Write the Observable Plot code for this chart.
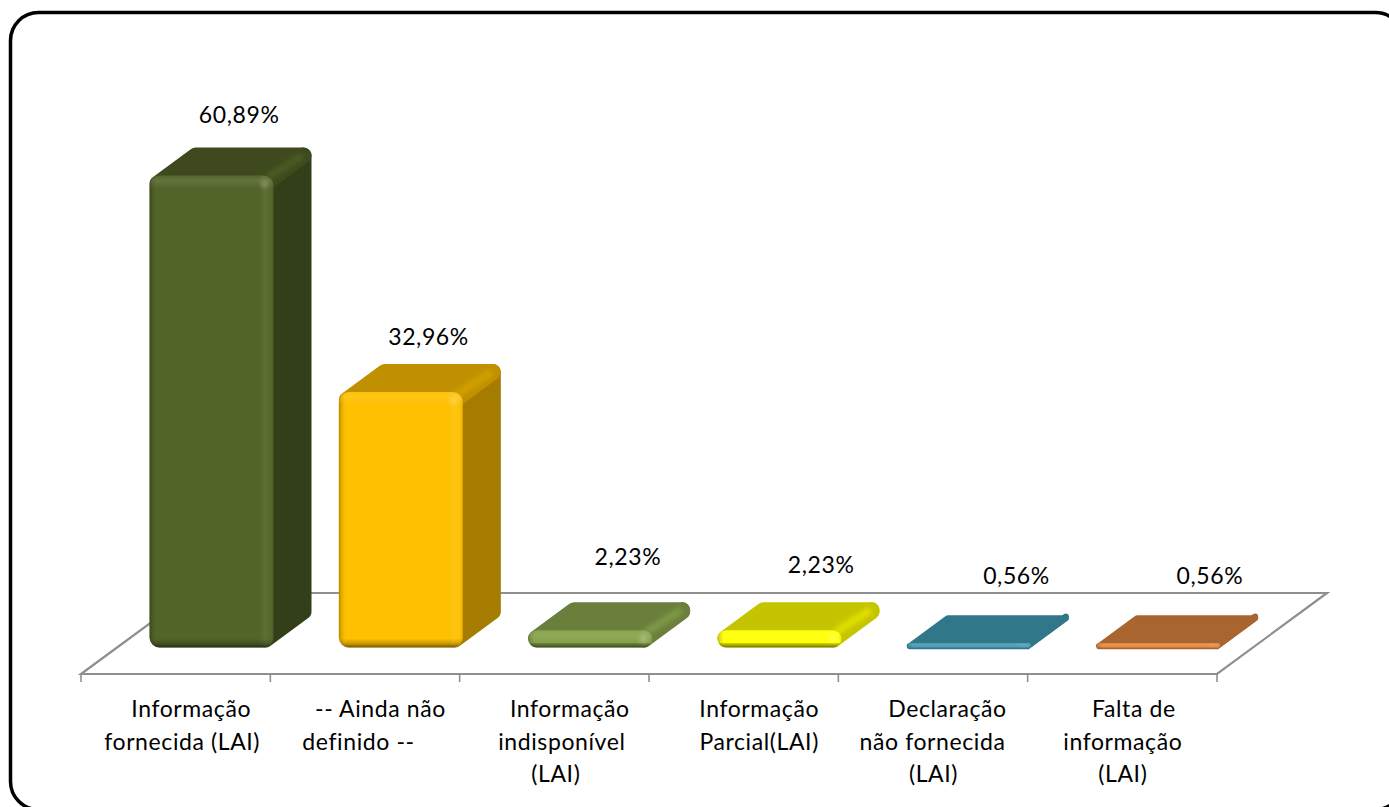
<!DOCTYPE html>
<html lang="pt">
<head>
<meta charset="utf-8">
<title>Informação</title>
<style>html,body{margin:0;padding:0;background:#fff;overflow:hidden}svg{display:block}</style>
<script src="https://cdn.jsdelivr.net/npm/d3@7"></script>
<script src="https://cdn.jsdelivr.net/npm/@observablehq/plot@0.6"></script>
</head>
<body>
<div id="chart"></div>
<script>
// ---- data ----
const categories = ["Informação fornecida (LAI)", "-- Ainda não definido --", "Informação indisponível (LAI)", "Informação Parcial(LAI)", "Declaração não fornecida (LAI)", "Falta de informação (LAI)"];
const values = [60.89, 32.96, 2.23, 2.23, 0.56, 0.56];
const tickLines = [
  ["Informação", "fornecida (LAI)"],
  ["-- Ainda não", "definido --"],
  ["Informação", "indisponível", "(LAI)"],
  ["Informação", "Parcial(LAI)"],
  ["Declaração", "não fornecida", "(LAI)"],
  ["Falta de", "informação", "(LAI)"]
];
// ---- styles ----
const frontColors = ["#526427", "#ffc000", "#84a047", "#ffff00", "#4a9db5", "#e58a42"];
const topColors = ["#3e4a1e", "#c09000", "#6a7f3c", "#c4c400", "#31778a", "#a9652f"];
const sideColors = ["#333f19", "#a67c00", "#6a7f3c", "#c8c800", "#31778a", "#a9652f"];
const edgeColors = ["#4a5a22", "#d19e00", "#7c9745", "#dede00", "#31778a", "#a9652f"];
// ---- layout ----
const font = "Lato, 'Open Sans', sans-serif";
const fontSize = 23;
const depthX = 38, depthY = 28;
const floorDepthX = 110, floorDepthY = 81, floorDrop = 26.5, tickLen = 8;
const barInsetLeft = 68.5, barWidth = 124;
const valueDx = [63, 63, 73, 77, 83, 87];
const valueDy = [-53.6, -48, -66, -58, -60, -60];
const tickDx = [[15, 6], [15, -7], [15, 7, 1], [15, 15], [14, -1, 0], [11, 0, 0]];
const tickDy = [68.5, 101.5, 134];
const fmt = (v) => v.toFixed(2).replace(".", ",") + "%";

const rows = categories.map((category, i) => ({category, value: values[i], i}));

function svgEl(name, attrs, parent) {
  const e = document.createElementNS("http://www.w3.org/2000/svg", name);
  for (const k in attrs) e.setAttribute(k, attrs[k]);
  if (parent) parent.appendChild(e);
  return e;
}

// grey floor with its tick marks, placed from the scales
const floorMark = (index, {x, y}) => {
  const g = svgEl("g", {});
  const step = x.bandwidth();
  const x0 = x(categories[0]);
  const x1 = x0 + step * categories.length;
  const fy = y(0) + floorDrop;
  const st = {fill: "none", stroke: "#8f8f8f", "stroke-width": 2.2, "stroke-linejoin": "miter"};
  svgEl("path", {...st, d: `M${x0},${fy}L${x1},${fy}L${x1 + floorDepthX},${fy - floorDepthY}L${x0 + floorDepthX},${fy - floorDepthY}Z`}, g);
  for (let i = 0; i <= categories.length; ++i) {
    const tx = x0 + i * step;
    svgEl("line", {x1: tx, x2: tx, y1: fy, y2: fy + tickLen, stroke: "#8f8f8f", "stroke-width": 1.6}, g);
  }
  return g;
};

// gradients and the depth faces (top, side) of each bar, placed from the scales
const depthMark = (index, {x, y}) => {
  const g = svgEl("g", {});
  const defs = svgEl("defs", {}, g);
  const blur = svgEl("filter", {id: "soft", x: "-30%", y: "-30%", width: "160%", height: "160%"}, defs);
  svgEl("feGaussianBlur", {stdDeviation: 2.2}, blur);
  for (const {category, value, i} of rows) {
    const l = x(category) + barInsetLeft, r = l + barWidth;
    const t = y(value), b = y(0);
    const h = b - t;
    // front: horizontal and vertical shading
    const gh = svgEl("linearGradient", {id: `fh${i}`, x1: 0, x2: 1, y1: 0, y2: 0}, defs);
    [[0, "#000", .3], [.02, "#000", .12], [.05, "#000", 0], [.88, "#fff", 0], [.93, "#fff", .07], [.97, "#fff", .03], [1, "#000", .1]]
      .forEach(([o, c, a]) => svgEl("stop", {offset: o, "stop-color": c, "stop-opacity": a}, gh));
    const gv = svgEl("linearGradient", {id: `fv${i}`, x1: 0, x2: 0, y1: 0, y2: 1}, defs);
    const f = (px) => Math.min(1, px / h);
    const stops = h > 10
      ? [[0, "#fff", .02], [f(5), "#fff", .1], [f(13), "#fff", 0], [1 - f(9), "#000", 0], [1 - f(4), "#000", .2], [1, "#000", .55]]
      : [[0, "#fff", .1], [1, "#fff", 0]];
    stops.forEach(([o, c, a]) => svgEl("stop", {offset: o, "stop-color": c, "stop-opacity": a}, gv));
    // side and top faces, with corners rounded by their own stroke
    const rnd = h > 10 ? 8 : 3;
    const poly = (pts, fill) => svgEl("path", {
      d: "M" + pts.map((p) => p.join(",")).join("L") + "Z",
      fill, stroke: fill, "stroke-width": rnd * 2, "stroke-linejoin": "round"
    }, g);
    poly([[r - rnd, t + rnd], [r + depthX - rnd, t - depthY + rnd], [r + depthX - rnd, b - depthY - rnd], [r - rnd, b - rnd]], sideColors[i]);
    poly([[l + rnd, t + rnd], [l + depthX + rnd, t - depthY + rnd], [r + depthX - rnd, t - depthY + rnd], [r - rnd, t + rnd]], topColors[i]);
    // soft light edge between top and side
    if (h > 10) {
      svgEl("line", {x1: r - 6, y1: t + 2, x2: r + depthX - 9, y2: t - depthY + 8,
        stroke: edgeColors[i], "stroke-width": 8, filter: "url(#soft)"}, g);
    }
  }
  return g;
};

// small highlight on the front's top-right corner
const shineMark = (index, {x, y}) => {
  const g = svgEl("g", {});
  for (const {category, value} of rows) {
    if (value < 1) continue;
    const cx = x(category) + barInsetLeft + barWidth - 9;
    svgEl("circle", {cx, cy: y(value) + 9, r: 3.5, fill: "#fff", "fill-opacity": .2, filter: "url(#soft)"}, g);
  }
  return g;
};

const frontMarks = rows.flatMap((row) => {
  const rad = Math.min(10, (row.value * 7.75) / 2);
  const o = {
    x: "category", y: "value",
    insetLeft: barInsetLeft,
    insetRight: 1136 / categories.length - barInsetLeft - barWidth,
    rx: rad, ry: rad
  };
  return [
    Plot.barY([row], {...o, fill: frontColors[row.i]}),
    Plot.barY([row], {...o, fill: `url(#fh${row.i})`}),
    Plot.barY([row], {...o, fill: `url(#fv${row.i})`})
  ];
});

const valueMarks = rows.map(({category, value, i}) =>
  Plot.text([{category, value}], {
    x: "category", y: "value", text: (d) => fmt(d.value),
    dx: valueDx[i], dy: valueDy[i], textAnchor: "middle", lineAnchor: "bottom",
    fontFamily: font, fontSize, fill: "#000"
  })
);

const tickMarks = rows.flatMap(({category, i}) =>
  tickLines[i].map((line, j) =>
    Plot.text([{category, line}], {
      x: "category", y: () => 0, text: "line",
      dx: tickDx[i][j], dy: tickDy[j], textAnchor: "middle", lineAnchor: "bottom",
      fontFamily: font, fontSize, fill: "#000"
    })
  )
);

const chart = Plot.plot({
  width: 1389,
  height: 807,
  margin: 0,
  style: {background: "#fff", overflow: "hidden", letterSpacing: "0.6px"},
  x: {type: "band", domain: categories, range: [81, 1217], padding: 0, round: false, axis: null},
  y: {type: "linear", domain: [0, 60.89], range: [647.5, 647.5 - 60.89 * 7.75], axis: null},
  marks: [
    Plot.frame({stroke: "#000", strokeWidth: 3.5, rx: 28, insetLeft: 10, insetTop: 12, insetRight: -14, insetBottom: -2}),
    floorMark,
    depthMark,
    ...frontMarks,
    shineMark,
    ...valueMarks,
    ...tickMarks
  ]
});
document.getElementById("chart").appendChild(chart);
</script>
</body>
</html>
